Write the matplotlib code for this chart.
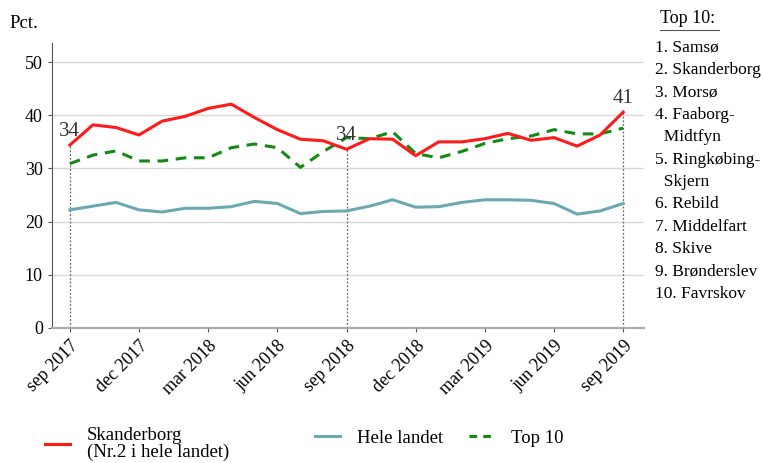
import matplotlib.pyplot as plt
from matplotlib.lines import Line2D
import numpy as np

plt.rcParams['font.family'] = ['Liberation Serif', 'DejaVu Serif']

# monthly, sep 2017 .. sep 2019
months = ['sep 2017', 'okt 2017', 'nov 2017', 'dec 2017', 'jan 2018', 'feb 2018',
          'mar 2018', 'apr 2018', 'maj 2018', 'jun 2018', 'jul 2018', 'aug 2018',
          'sep 2018', 'okt 2018', 'nov 2018', 'dec 2018', 'jan 2019', 'feb 2019',
          'mar 2019', 'apr 2019', 'maj 2019', 'jun 2019', 'jul 2019', 'aug 2019',
          'sep 2019']
skanderborg = [34.4, 38.2, 37.7, 36.3, 38.9, 39.8, 41.3, 42.1, 39.6, 37.3, 35.5, 35.2,
               33.6, 35.6, 35.5, 32.4, 35.0, 35.0, 35.6, 36.6, 35.3, 35.8, 34.2, 36.3,
               40.6]
hele_landet = [22.2, 22.9, 23.6, 22.2, 21.8, 22.5, 22.5, 22.8, 23.8, 23.4, 21.5, 21.9,
               22.0, 22.9, 24.1, 22.7, 22.8, 23.6, 24.1, 24.1, 24.0, 23.4, 21.4, 22.0,
               23.4]
top10 = [30.9, 32.5, 33.3, 31.4, 31.4, 32.0, 32.0, 33.9, 34.6, 33.9, 30.2, 33.2,
         35.8, 35.6, 36.9, 32.8, 32.0, 33.2, 34.7, 35.6, 36.1, 37.3, 36.5, 36.5,
         37.6]
marked = [0, 12, 24]
top10_names = ['1. Samsø', '2. Skanderborg', '3. Morsø', '4. Faaborg-', '  Midtfyn',
               '5. Ringkøbing-', '  Skjern', '6. Rebild', '7. Middelfart', '8. Skive',
               '9. Brønderslev', '10. Favrskov']

red = '#ff1a1a'
teal = '#6aa9b2'
green = '#138a13'

x = np.arange(len(months))
fig = plt.figure(figsize=(7.63, 4.63), dpi=100)
ax = fig.add_axes([0.068, 0.292, 0.776, 0.615])

for v in range(0, 60, 10):
    ax.axhline(v, color='#d9d9d9', lw=1, zorder=0)

ax.plot(x, hele_landet, color=teal, lw=2.2, zorder=3)
ax.plot(x, top10, color=green, lw=2.2, ls=(0, (3.5, 2.5)), zorder=3)
ax.plot(x, skanderborg, color=red, lw=2.2, zorder=4)

for i in marked:
    ax.vlines(i, 0, skanderborg[i], color='#666666', lw=0.9, ls=(0, (1.5, 1.5)), zorder=2)
    ax.annotate(str(int(round(skanderborg[i]))), (i, skanderborg[i]),
                xytext=(0, 3), textcoords='offset points', ha='center', va='bottom',
                fontsize=15, color='#333333')

ax.set_xlim(-0.78, 24.9)
ax.set_ylim(0, 53.6)
ax.set_yticks(range(0, 60, 10))
ax.set_xticks(x[::3])
ax.set_xticklabels(months[::3], rotation=45, ha='right', rotation_mode='anchor')
ax.tick_params(axis='both', labelsize=13, length=3, color='#555555')
ax.tick_params(axis='x', pad=4)

for s in ['top', 'right']:
    ax.spines[s].set_visible(False)
ax.spines['left'].set_color('#555555')
ax.spines['bottom'].set_color('#aaaaaa')
ax.spines['bottom'].set_linewidth(1.5)

fig.text(0.012, 0.94, 'Pct.', fontsize=13.5)

# list of top 10 on the right
fig.text(0.865, 0.96, 'Top 10:', fontsize=13, va='center')
fig.add_artist(Line2D([0.865, 0.942], [0.936, 0.936], color='#555555', lw=0.8))
for k, name in enumerate(top10_names):
    fig.text(0.858, 0.898 - k * 0.0485, name, fontsize=12.5, va='center')

# legend entries
leg_kw = dict(loc='upper left', bbox_transform=fig.transFigure, frameon=False,
              fontsize=13.5, handlelength=1.35, handletextpad=0.9,
              borderaxespad=0, borderpad=0)
leg = fig.legend([Line2D([], [], color=red, lw=2.2)], ['Skanderborg\n(Nr.2 i hele landet)'],
                 bbox_to_anchor=(0.059, 0.078), **leg_kw)
for t in leg.get_texts():
    t.set_linespacing(1.0)
fig.legend([Line2D([], [], color=teal, lw=2.2)], ['Hele landet'],
           bbox_to_anchor=(0.413, 0.072), **leg_kw)
fig.legend([Line2D([], [], color=green, lw=2.2, ls=(0, (2.5, 2)))], ['Top 10'],
           bbox_to_anchor=(0.615, 0.072), **leg_kw)

fig.savefig('out.png', dpi=100)
